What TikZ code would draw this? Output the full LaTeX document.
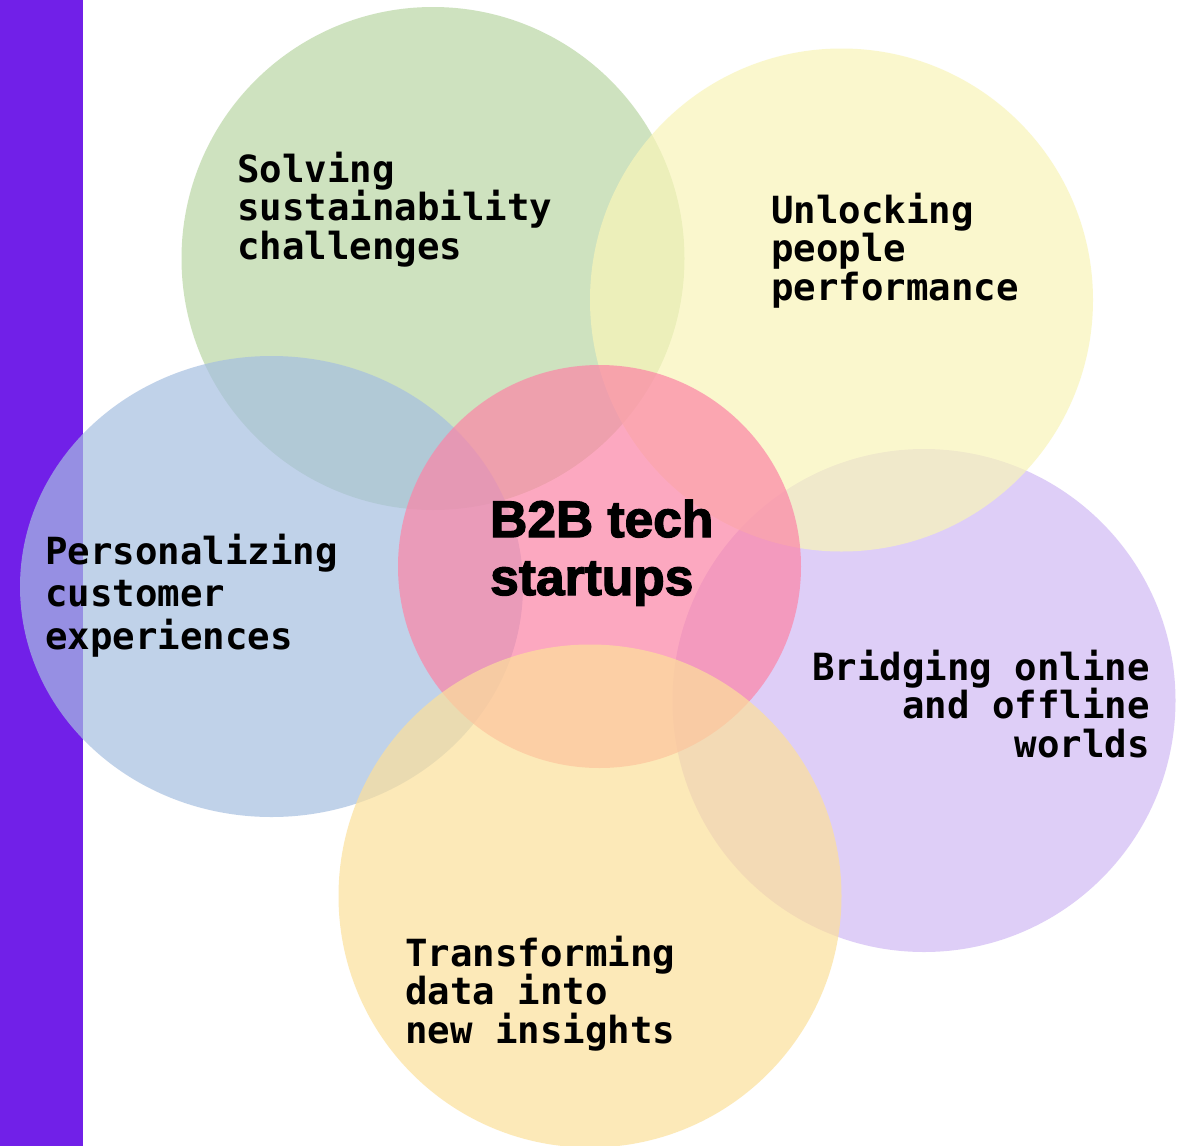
\documentclass[tikz,border=0pt]{standalone}
\usepackage{fontspec}
\usetikzlibrary{shapes.geometric}
\newfontfamily\labelfont{DejaVu Sans Mono}
\newfontfamily\titlefont{Liberation Sans Bold}[FakeBold=2.5]
\definecolor{barpurple}{RGB}{113,32,232}
\definecolor{cgreen}{RGB}{186,215,165}
\definecolor{cyellow}{RGB}{249,245,185}
\definecolor{cblue}{RGB}{166,191,225}
\definecolor{cpurple}{RGB}{209,186,244}
\definecolor{cpink}{RGB}{252,132,166}
\definecolor{corange}{RGB}{252,224,154}
\tikzset{
  blob/.style={circle, inner sep=0pt, minimum size=503pt, fill opacity=0.7, draw=none},
  lbl/.style={inner sep=0pt, text=black, font=\labelfont\bfseries\fontsize{37.4pt}{38.5pt}\selectfont},
  ttl/.style={inner sep=0pt, text=black, align=left, font=\titlefont\fontsize{51.5pt}{58pt}\selectfont}
}
\begin{document}
\begin{tikzpicture}[x=1pt,y=-1pt]
\useasboundingbox (0,0) rectangle (1184,1146);
\fill[white] (0,0) rectangle (1184,1146);
\clip (0,0) rectangle (1184,1146);
\fill[barpurple] (0,0) rectangle (83,1146);
\node[blob, fill=cpurple] (purple) at (924,700.5) {};
\node[blob, fill=cgreen] (green) at (433,258.5) {};
\node[blob, fill=cyellow] (yellow) at (841.5,300) {};
\node[ellipse, inner sep=0pt, minimum width=503pt, minimum height=461pt, fill=cblue, fill opacity=0.7] (blue) at (271.5,586.5) {};
\node[blob, fill=cpink, minimum size=403pt] (pink) at (599.5,566.5) {};
\node[blob, fill=corange] (orange) at (590,896) {};

\node[lbl, anchor=base west, align=left] (tgreen) at (237,259) {Solving\\sustainability\\challenges};
\node[lbl, anchor=base west, align=left] (tyellow) at (771,300) {Unlocking\\people\\performance};
\node[lbl, anchor=base west, align=left, font=\labelfont\bfseries\fontsize{37.4pt}{42.5pt}\selectfont] (tblue) at (45,649) {Personalizing\\customer\\experiences};
\node[lbl, anchor=base east, align=right] (tpurple) at (1150,757) {Bridging online\\and offline\\worlds};
\node[lbl, anchor=base west, align=left] (torange) at (405,1043) {Transforming\\data into\\new insights};
\node[ttl, anchor=base west] (tpink) at (490,595) {B2B tech\\startups};
\end{tikzpicture}
\end{document}
